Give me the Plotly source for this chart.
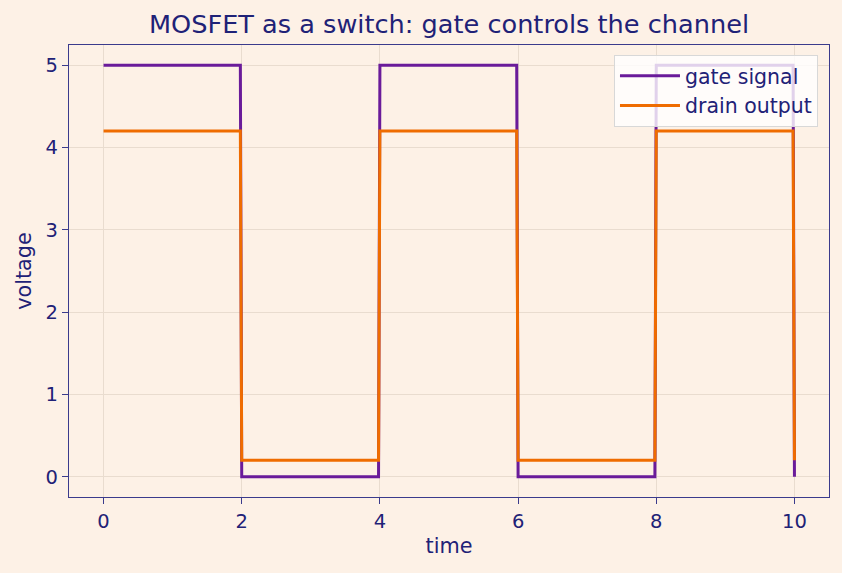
import plotly.graph_objects as go

# corner points of the square waves
time = [0, 1.98, 2, 3.98, 4, 5.98, 6, 7.98, 8, 9.98, 10]
gate_signal = [5, 5, 0, 0, 5, 5, 0, 0, 5, 5, 0]
drain_output = [4.2, 4.2, 0.2, 0.2, 4.2, 4.2, 0.2, 0.2, 4.2, 4.2, 0.2]

x_ticks = [0, 2, 4, 6, 8, 10]
y_ticks = [0, 1, 2, 3, 4, 5]

TEXT = "#1f2277"
SPINE = "#3b3b8c"
GRID = "#e9dccf"
BG = "#fdf1e6"

fig = go.Figure()
fig.add_trace(go.Scatter(x=time, y=gate_signal, mode="lines", name="gate signal",
                         line=dict(color="#6a1b9a", width=3)))
fig.add_trace(go.Scatter(x=time, y=drain_output, mode="lines", name="drain output",
                         line=dict(color="#ef6c00", width=3)))

axis_common = dict(showline=True, linecolor=SPINE, linewidth=1.3, mirror=True,
                   ticks="outside", ticklen=6, tickcolor=SPINE, tickwidth=1.3,
                   showgrid=True, gridcolor=GRID, gridwidth=1, zeroline=False,
                   tickfont=dict(size=19.5, color=TEXT, family="DejaVu Sans"))

fig.update_layout(
    width=842, height=573,
    paper_bgcolor=BG, plot_bgcolor=BG,
    margin=dict(l=69, r=13, t=45, b=76),
    font=dict(family="DejaVu Sans", color=TEXT),
    title=dict(text="MOSFET as a switch: gate controls the channel",
               xref="paper", x=0.5, xanchor="center",
               yref="container", y=1 - 24 / 573, yanchor="middle",
               font=dict(size=25.6, color=TEXT, family="DejaVu Sans")),
    xaxis=dict(range=[-0.5, 10.5], tickvals=x_ticks,
               title=dict(text="time", font=dict(size=20.8, color=TEXT), standoff=6),
               **axis_common),
    yaxis=dict(range=[-0.245, 5.245], tickvals=y_ticks,
               title=dict(text="voltage", font=dict(size=20.8, color=TEXT), standoff=8),
               **axis_common),
    legend=dict(x=0.9855, y=0.978, xanchor="right", yanchor="top",
                bgcolor="rgba(255,255,255,0.8)", bordercolor="#d8d8d8", borderwidth=1,
                itemwidth=60, font=dict(size=20.5, color=TEXT)),
    showlegend=True,
)

fig.write_html("out.html")
